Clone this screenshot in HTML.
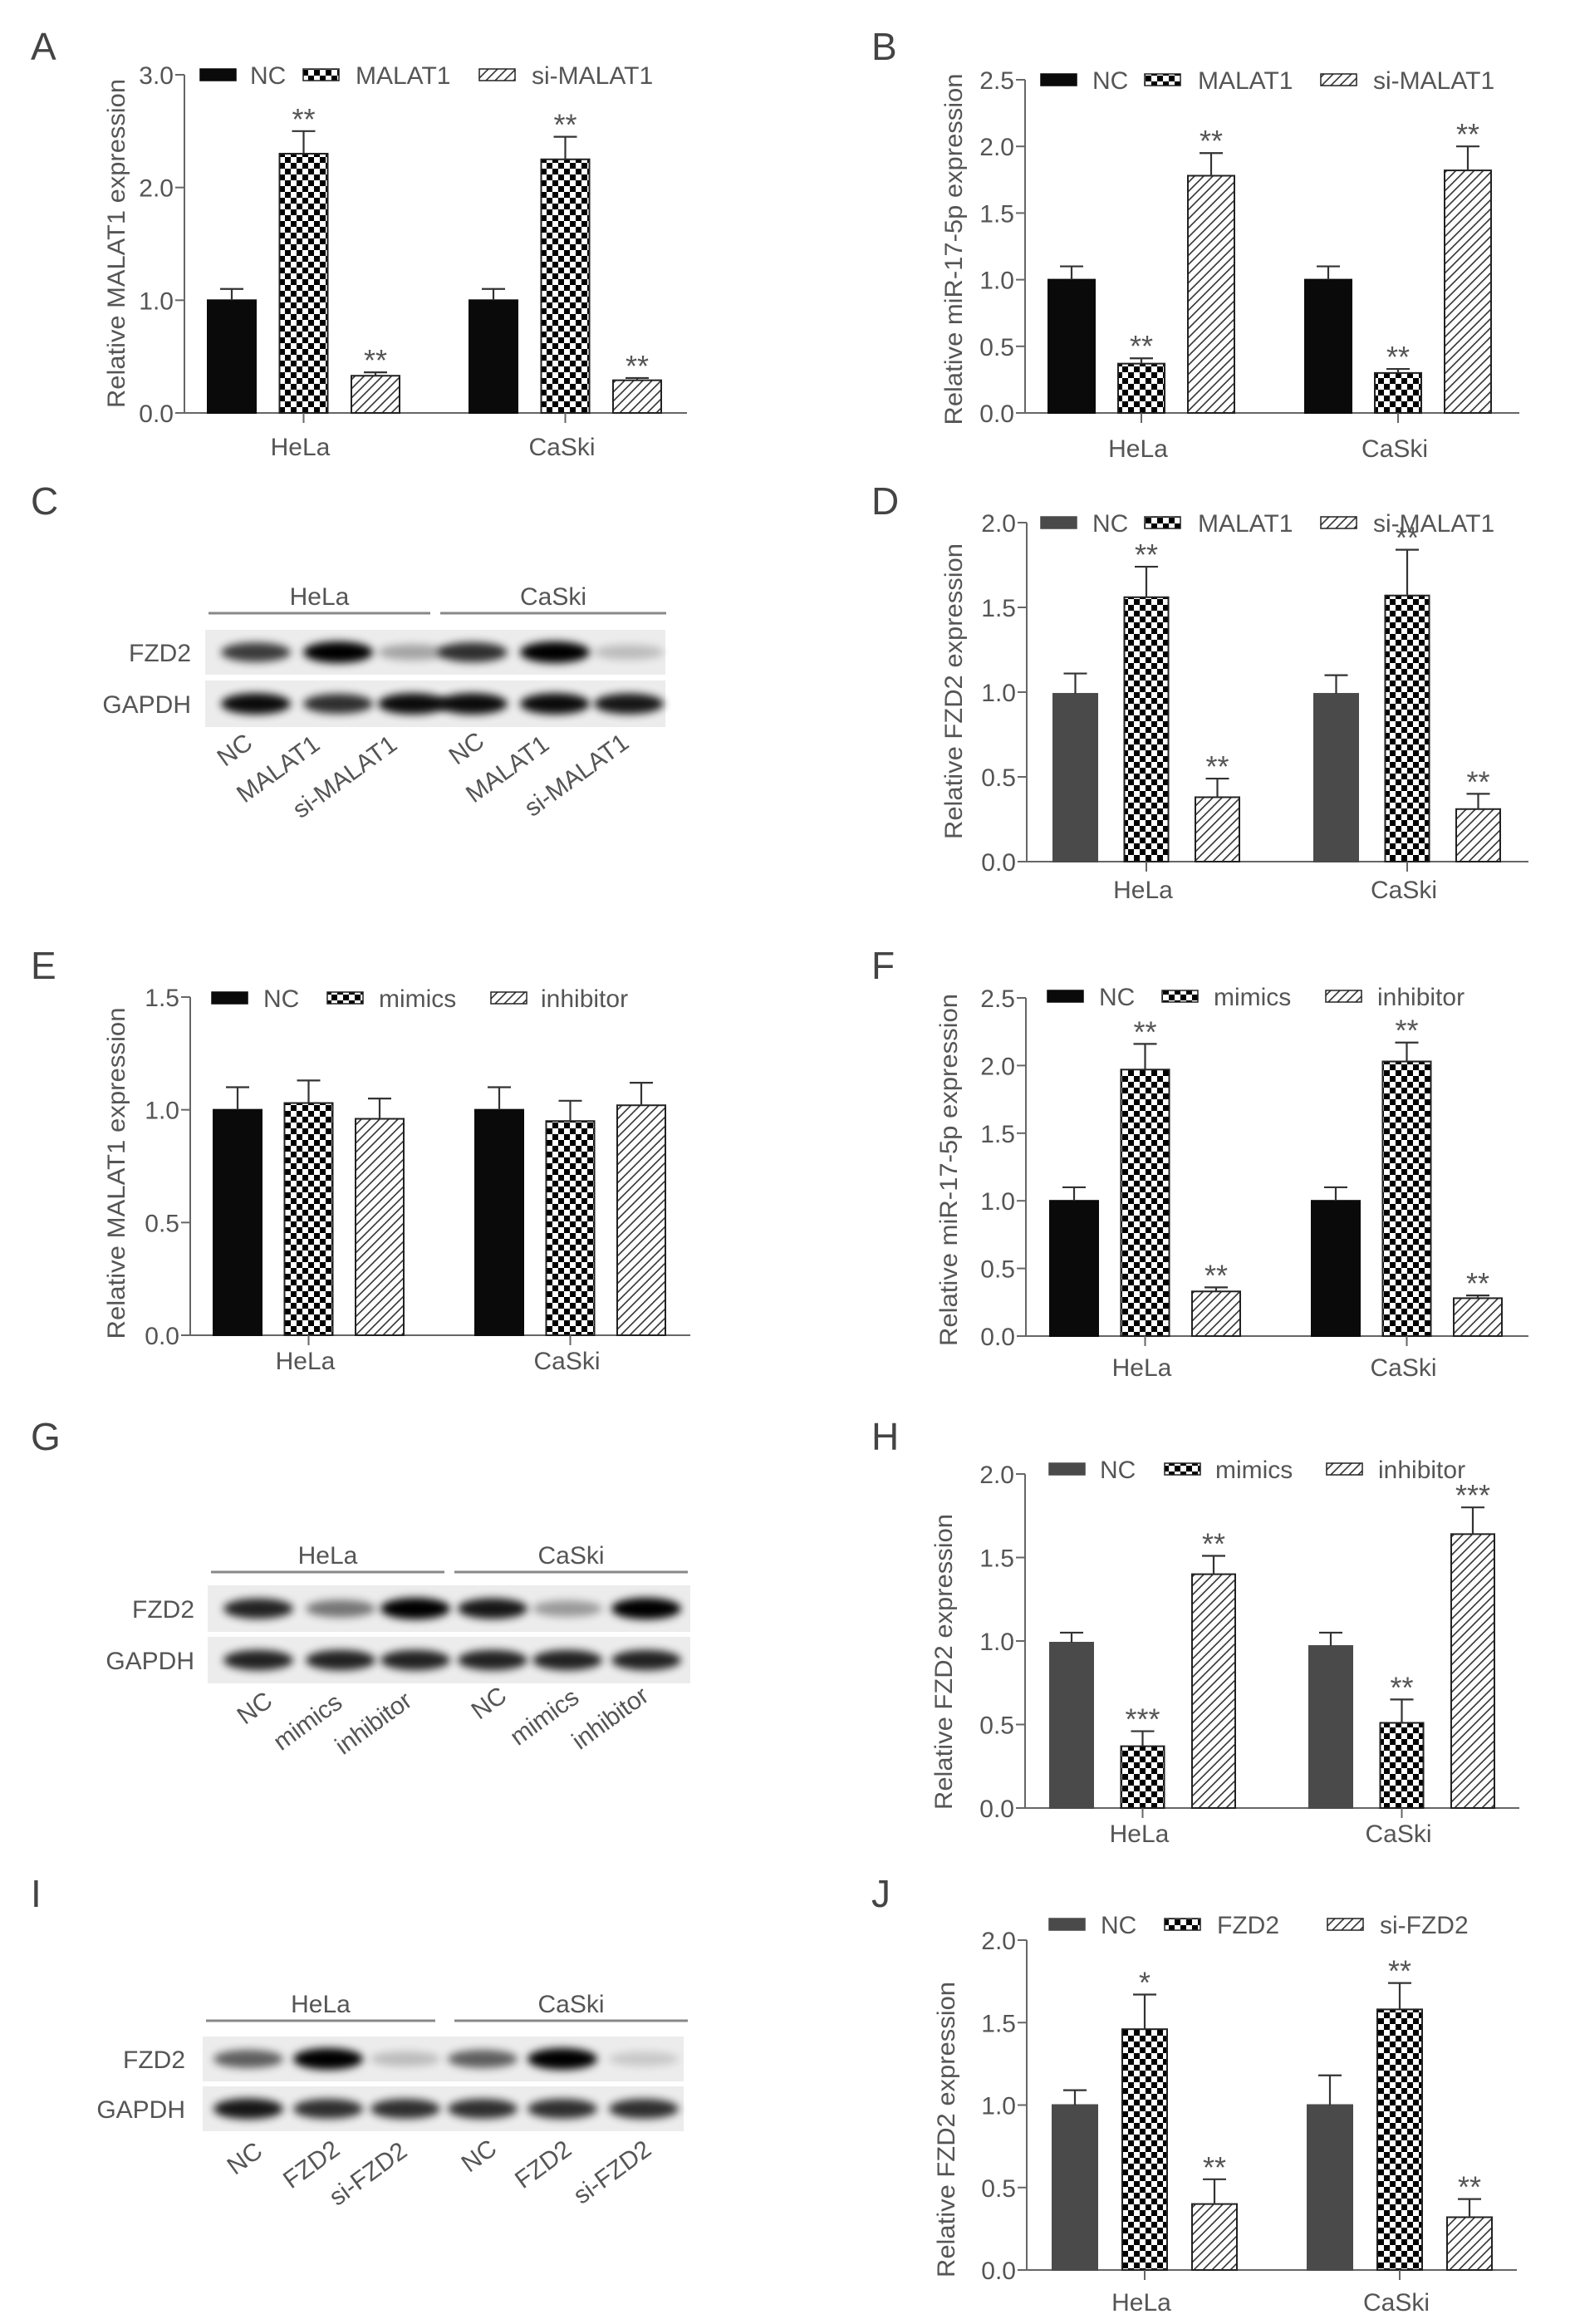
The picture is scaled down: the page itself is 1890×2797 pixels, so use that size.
<!DOCTYPE html>
<html><head><meta charset="utf-8"><style>
html,body{margin:0;padding:0;background:#fff;}
svg{display:block;font-family:"Liberation Sans",Arial,sans-serif;}
</style></head><body>
<svg id="fig" width="1890" height="2797" viewBox="0 0 1890 2797" xmlns="http://www.w3.org/2000/svg">
<defs>
<pattern id="chk" width="14" height="14" patternUnits="userSpaceOnUse"><rect width="14" height="14" fill="#fff"/><rect width="7" height="7" fill="#000"/><rect x="7" y="7" width="7" height="7" fill="#000"/></pattern>
<pattern id="hatch" width="11" height="11" patternUnits="userSpaceOnUse"><rect width="11" height="11" fill="#fff"/><path d="M-2,13 L13,-2 M-2,2 L2,-2 M9,13 L13,9" stroke="#333" stroke-width="1.6"/></pattern>
<filter id="blur" x="-30%" y="-80%" width="160%" height="260%"><feGaussianBlur stdDeviation="5"/></filter>
</defs>
</svg>
<script>
const cats = ["HeLa", "CaSki"];
// Panel A
const A_legend = ["NC", "MALAT1", "si-MALAT1"];
const A_nc = [1.00, 1.00], A_oe = [2.30, 2.25], A_si = [0.33, 0.29];
const A_ncErr = [0.10, 0.10], A_oeErr = [0.20, 0.20], A_siErr = [0.03, 0.02];
const A_stars = [["", "**", "**"], ["", "**", "**"]];
const A_tickVals = [0, 1, 2, 3];
const A_tickLabels = ["0.0", "1.0", "2.0", "3.0"];
// Panel B
const B_legend = ["NC", "MALAT1", "si-MALAT1"];
const B_nc = [1.00, 1.00], B_oe = [0.37, 0.30], B_si = [1.78, 1.82];
const B_ncErr = [0.10, 0.10], B_oeErr = [0.04, 0.03], B_siErr = [0.17, 0.18];
const B_stars = [["", "**", "**"], ["", "**", "**"]];
const B_tickVals = [0, 0.5, 1, 1.5, 2, 2.5];
const B_tickLabels = ["0.0", "0.5", "1.0", "1.5", "2.0", "2.5"];
// Panel D
const D_legend = ["NC", "MALAT1", "si-MALAT1"];
const D_nc = [0.99, 0.99], D_oe = [1.56, 1.57], D_si = [0.38, 0.31];
const D_ncErr = [0.12, 0.11], D_oeErr = [0.18, 0.27], D_siErr = [0.11, 0.09];
const D_stars = [["", "**", "**"], ["", "**", "**"]];
const D_tickVals = [0, 0.5, 1, 1.5, 2];
const D_tickLabels = ["0.0", "0.5", "1.0", "1.5", "2.0"];
// Panel E
const E_legend = ["NC", "mimics", "inhibitor"];
const E_nc = [1.00, 1.00], E_oe = [1.03, 0.95], E_si = [0.96, 1.02];
const E_ncErr = [0.10, 0.10], E_oeErr = [0.10, 0.09], E_siErr = [0.09, 0.10];
const E_stars = [["", "", ""], ["", "", ""]];
const E_tickVals = [0, 0.5, 1, 1.5];
const E_tickLabels = ["0.0", "0.5", "1.0", "1.5"];
// Panel F
const F_legend = ["NC", "mimics", "inhibitor"];
const F_nc = [1.00, 1.00], F_oe = [1.97, 2.03], F_si = [0.33, 0.28];
const F_ncErr = [0.10, 0.10], F_oeErr = [0.19, 0.14], F_siErr = [0.03, 0.02];
const F_stars = [["", "**", "**"], ["", "**", "**"]];
const F_tickVals = [0, 0.5, 1, 1.5, 2, 2.5];
const F_tickLabels = ["0.0", "0.5", "1.0", "1.5", "2.0", "2.5"];
// Panel H
const H_legend = ["NC", "mimics", "inhibitor"];
const H_nc = [0.99, 0.97], H_oe = [0.37, 0.51], H_si = [1.40, 1.64];
const H_ncErr = [0.06, 0.08], H_oeErr = [0.09, 0.14], H_siErr = [0.11, 0.16];
const H_stars = [["", "***", "**"], ["", "**", "***"]];
const H_tickVals = [0, 0.5, 1, 1.5, 2];
const H_tickLabels = ["0.0", "0.5", "1.0", "1.5", "2.0"];
// Panel J
const J_legend = ["NC", "FZD2", "si-FZD2"];
const J_nc = [1.00, 1.00], J_oe = [1.46, 1.58], J_si = [0.40, 0.32];
const J_ncErr = [0.09, 0.18], J_oeErr = [0.21, 0.16], J_siErr = [0.15, 0.11];
const J_stars = [["", "*", "**"], ["", "**", "**"]];
const J_tickVals = [0, 0.5, 1, 1.5, 2];
const J_tickLabels = ["0.0", "0.5", "1.0", "1.5", "2.0"];
// Blots (band intensities 0-1)
const C_lanes = ["NC", "MALAT1", "si-MALAT1", "NC", "MALAT1", "si-MALAT1"];
const C_fzd2 = [0.75, 1.0, 0.3, 0.8, 1.0, 0.2];
const C_gapdh = [0.95, 0.8, 0.95, 0.95, 0.95, 0.9];
const G_lanes = ["NC", "mimics", "inhibitor", "NC", "mimics", "inhibitor"];
const G_fzd2 = [0.85, 0.5, 1.0, 0.9, 0.35, 1.0];
const G_gapdh = [0.85, 0.85, 0.85, 0.85, 0.85, 0.85];
const I_lanes = ["NC", "FZD2", "si-FZD2", "NC", "FZD2", "si-FZD2"];
const I_fzd2 = [0.6, 1.0, 0.2, 0.6, 1.0, 0.15];
const I_gapdh = [0.9, 0.8, 0.8, 0.8, 0.8, 0.8];

const NS = "http://www.w3.org/2000/svg";
const svg = document.getElementById("fig");
function mk(tag, attrs, parent) {
  const e = document.createElementNS(NS, tag);
  for (const k in attrs) e.setAttribute(k, attrs[k]);
  (parent || svg).appendChild(e);
  return e;
}
const TXT = "#555", AX = "#666";

function letter(ch, x, y) {
  const t = mk("text", { x: x, y: y, "font-size": 46, fill: "#444" });
  t.textContent = ch;
  
  
}

function chart(L, legend, nc, oe, si, ncE, oeE, siE, stars, tickVals, tickLabels) {
  const g = mk("g", {});
  
  
  const y = v => L.y0 - v / L.vmax * (L.y0 - L.yTop);
  const ya = mk("line", { x1: L.ax, y1: y(L.vmax), x2: L.ax, y2: L.y0, stroke: AX, "stroke-width": 2 }, g);
  
  
  const xa = mk("line", { x1: L.ax, y1: L.y0, x2: L.xEnd, y2: L.y0, stroke: AX, "stroke-width": 2 }, g);
  
  
  tickVals.forEach((v, i) => {
    const yy = y(v);
    const tm = mk("line", { x1: L.ax - 11, y1: yy, x2: L.ax, y2: yy, stroke: AX, "stroke-width": 2 }, g);
    
    
    const tl = mk("text", { x: L.ax - 13, y: yy + 11, "font-size": 30, fill: TXT, "text-anchor": "end" }, g);
    tl.textContent = tickLabels[i];
    
    
  });
  const tt = mk("text", { x: 0, y: 0, "font-size": 30, fill: TXT, "text-anchor": "middle", textLength: L.tLen, lengthAdjust: "spacingAndGlyphs", transform: "translate(" + (L.tX + 10) + "," + L.tY + ") rotate(-90)" }, g);
  tt.textContent = L.title;
  
  
  const fills = [L.ncColor, "url(#chk)", "url(#hatch)"];
  const series = [nc, oe, si], errs = [ncE, oeE, siE];
  cats.forEach((c, gi) => {
    const start = L.starts[gi];
    series.forEach((s, si2) => {
      const bx = start + si2 * L.step;
      const top = y(s[gi]);
      const r = mk("rect", { x: bx, y: top, width: L.bw, height: L.y0 - top, fill: fills[si2], stroke: si2 === 0 ? L.ncColor : "#222", "stroke-width": 2 }, g);
      
      
      const cx = bx + L.bw / 2, et = y(s[gi] + errs[si2][gi]);
      const el = mk("path", { d: "M" + cx + "," + top + "V" + et + "M" + (cx - 14) + "," + et + "H" + (cx + 14), stroke: "#333", "stroke-width": 2.2, fill: "none" }, g);
      
      
      if (stars[gi][si2]) {
        const st = mk("text", { x: cx, y: et - 2, "font-size": 36, fill: TXT, "text-anchor": "middle" }, g);
        st.textContent = stars[gi][si2];
        
        
      }
    });
    const mc = start + L.step + L.bw / 2;
    const ct = mk("line", { x1: mc, y1: L.y0, x2: mc, y2: L.y0 + 12, stroke: AX, "stroke-width": 2 }, g);
    
    
    const cl = mk("text", { x: mc - 4, y: L.catY, "font-size": 30, fill: TXT, "text-anchor": "middle" }, g);
    cl.textContent = c;
    
    
  });
  legend.forEach((name, i) => {
    const lb = mk("rect", { x: L.lgBox[i], y: L.lgY - 7, width: 43, height: 14, fill: fills[i], stroke: i === 0 ? L.ncColor : "#222", "stroke-width": 1.5 }, g);
    
    
    const lt = mk("text", { x: L.lgTxt[i], y: L.lgY + 11, "font-size": 30, fill: TXT }, g);
    lt.textContent = name;
    
    
  });
}

function blot(B, lanes, fz, gp) {
  const g = mk("g", {});
  
  
  const groups = [["HeLa", B.l1], ["CaSki", B.l2]];
  groups.forEach(([nm, l]) => {
    const ln = mk("line", { x1: l[0], y1: B.lineY, x2: l[1], y2: B.lineY, stroke: "#888", "stroke-width": 3 }, g);
    
    
    const t = mk("text", { x: (l[0] + l[1]) / 2, y: B.lineY - 10, "font-size": 30, fill: TXT, "text-anchor": "middle" }, g);
    t.textContent = nm;
    
    
  });
  [["FZD2", B.s1, fz], ["GAPDH", B.s2, gp]].forEach(([nm, s, vals]) => {
    const r = mk("rect", { x: B.x0, y: s[0], width: B.x1 - B.x0, height: s[1] - s[0], fill: "#ececec" }, g);
    
    
    const cy = (s[0] + s[1]) / 2;
    vals.forEach((v, i) => {
      const e = mk("ellipse", { cx: B.lanes[i], cy: cy, rx: 42, ry: 8 + 5 * v, fill: "#000", opacity: v, filter: "url(#blur)" }, g);
      
      
    });
    const t = mk("text", { x: B.labR, y: cy + 11, "font-size": 30, fill: TXT, "text-anchor": "end" }, g);
    t.textContent = nm;
    
    
  });
  lanes.forEach((nm, i) => {
    const t = mk("text", { x: 0, y: 0, "font-size": 30, fill: TXT, "text-anchor": "end", transform: "translate(" + B.ends[i][0] + "," + B.ends[i][1] + ") rotate(-36)" }, g);
    t.textContent = nm;
    
    
  });
}

letter("A", 37, 72); letter("B", 1049, 72); letter("C", 37, 619); letter("D", 1049, 619);
letter("E", 37, 1178); letter("F", 1049, 1178); letter("G", 37, 1745); letter("H", 1049, 1745);
letter("I", 37, 2295); letter("J", 1049, 2295);

chart({ id: "a", ax: 222, xEnd: 827, yTop: 90, y0: 497, vmax: 3, starts: [250, 565], bw: 58, step: 86.5, ncColor: "#0a0a0a",
  title: "Relative MALAT1 expression", tX: 140, tY: 293, tLen: 396, lgY: 90, lgBox: [241, 365, 577], lgTxt: [301, 428, 640], catY: 548 },
  A_legend, A_nc, A_oe, A_si, A_ncErr, A_oeErr, A_siErr, A_stars, A_tickVals, A_tickLabels);
chart({ id: "b", ax: 1234, xEnd: 1829, yTop: 96, y0: 497, vmax: 2.5, starts: [1262, 1571], bw: 56, step: 84, ncColor: "#0a0a0a",
  title: "Relative miR-17-5p expression", tX: 1148, tY: 300, tLen: 423, lgY: 96, lgBox: [1253, 1378, 1590], lgTxt: [1315, 1442, 1653], catY: 550 },
  B_legend, B_nc, B_oe, B_si, B_ncErr, B_oeErr, B_siErr, B_stars, B_tickVals, B_tickLabels);
chart({ id: "d", ax: 1236, xEnd: 1840, yTop: 629, y0: 1037, vmax: 2, starts: [1268, 1582], bw: 53, step: 85.5, ncColor: "#4a4a4a",
  title: "Relative FZD2 expression", tX: 1148, tY: 832, tLen: 356, lgY: 629, lgBox: [1253, 1378, 1590], lgTxt: [1315, 1442, 1653], catY: 1081 },
  D_legend, D_nc, D_oe, D_si, D_ncErr, D_oeErr, D_siErr, D_stars, D_tickVals, D_tickLabels);
chart({ id: "e", ax: 229, xEnd: 831, yTop: 1200, y0: 1607, vmax: 1.5, starts: [257, 572], bw: 58, step: 85.5, ncColor: "#0a0a0a",
  title: "Relative MALAT1 expression", tX: 140, tY: 1412, tLen: 399, lgY: 1201, lgBox: [255, 394, 591], lgTxt: [317, 456, 651], catY: 1648 },
  E_legend, E_nc, E_oe, E_si, E_ncErr, E_oeErr, E_siErr, E_stars, E_tickVals, E_tickLabels);
chart({ id: "f", ax: 1235, xEnd: 1840, yTop: 1201, y0: 1608, vmax: 2.5, starts: [1264, 1579], bw: 58, step: 85.5, ncColor: "#0a0a0a",
  title: "Relative miR-17-5p expression", tX: 1142, tY: 1408, tLen: 424, lgY: 1199, lgBox: [1261, 1399, 1596], lgTxt: [1323, 1461, 1658], catY: 1656 },
  F_legend, F_nc, F_oe, F_si, F_ncErr, F_oeErr, F_siErr, F_stars, F_tickVals, F_tickLabels);
chart({ id: "h", ax: 1234, xEnd: 1829, yTop: 1774, y0: 2176, vmax: 2, starts: [1264, 1576], bw: 52, step: 85.5, ncColor: "#4a4a4a",
  title: "Relative FZD2 expression", tX: 1136, tY: 2000, tLen: 356, lgY: 1768, lgBox: [1263, 1402, 1597], lgTxt: [1324, 1463, 1659], catY: 2217 },
  H_legend, H_nc, H_oe, H_si, H_ncErr, H_oeErr, H_siErr, H_stars, H_tickVals, H_tickLabels);
chart({ id: "j", ax: 1236, xEnd: 1826, yTop: 2335, y0: 2732, vmax: 2, starts: [1267, 1574], bw: 54, step: 84, ncColor: "#4a4a4a",
  title: "Relative FZD2 expression", tX: 1139, tY: 2563, tLen: 356, lgY: 2316, lgBox: [1263, 1402, 1598], lgTxt: [1325, 1465, 1661], catY: 2781 },
  J_legend, J_nc, J_oe, J_si, J_ncErr, J_oeErr, J_siErr, J_stars, J_tickVals, J_tickLabels);

blot({ id: "c", x0: 247, x1: 801, s1: [758, 812], s2: [819, 875], lineY: 738, l1: [251, 518], l2: [530, 802], labR: 230,
  lanes: [308, 407, 497, 569, 668, 757],
  ends: [[306, 898], [387, 900], [480, 900], [585, 896], [663, 900], [759, 898]] }, C_lanes, C_fzd2, C_gapdh);
blot({ id: "g", x0: 250, x1: 831, s1: [1908, 1964], s2: [1970, 2026], lineY: 1892, l1: [254, 535], l2: [547, 828], labR: 234,
  lanes: [311, 410, 500, 593, 683, 778],
  ends: [[330, 2051], [414, 2053], [498, 2051], [612, 2045], [699, 2047], [783, 2045]] }, G_lanes, G_fzd2, G_gapdh);
blot({ id: "i", x0: 244, x1: 823, s1: [2451, 2505], s2: [2511, 2565], lineY: 2432, l1: [248, 524], l2: [547, 828], labR: 223,
  lanes: [299, 395, 488, 581, 677, 775],
  ends: [[318, 2593], [411, 2591], [492, 2593], [600, 2590], [690, 2591], [786, 2591]] }, I_lanes, I_fzd2, I_gapdh);
</script>
</body></html>
